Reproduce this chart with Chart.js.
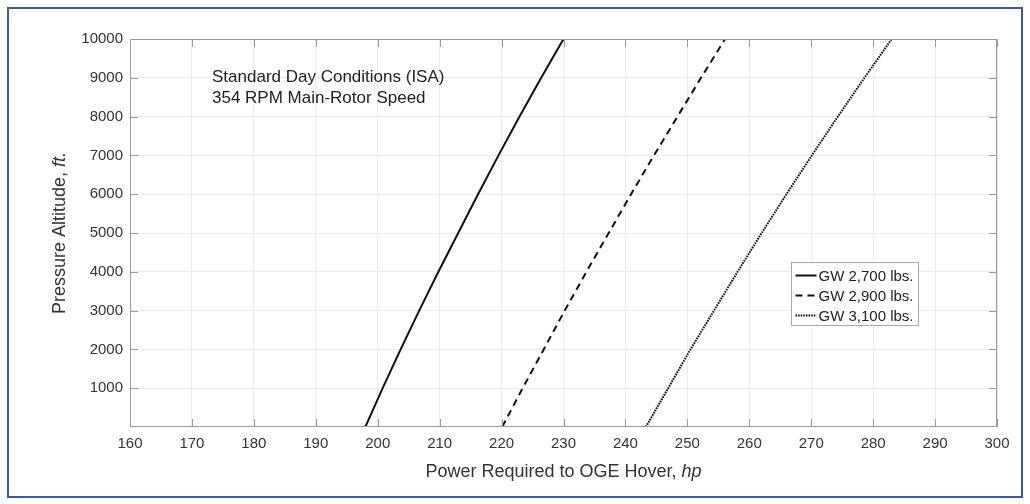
<!DOCTYPE html>
<html>
<head>
<meta charset="utf-8">
<script src="https://cdn.jsdelivr.net/npm/chart.js@4.4.1/dist/chart.umd.min.js"></script>
<style>
  html, body { margin: 0; padding: 0; background: #fff; }
</style>
</head>
<body>
<canvas id="hoverChart" width="1030" height="504"></canvas>
<script>
// Pressure altitude (ft) and power required (hp) for each gross weight
const altitudes = [0, 1000, 2000, 3000, 4000, 5000, 6000, 7000, 8000, 9000, 10000];
const gw2700 = [198.0, 200.8, 203.7, 206.7, 209.8, 213.0, 216.2, 219.5, 222.9, 226.4, 230.0];
const gw2900 = [220.1, 223.4, 226.8, 230.2, 233.7, 237.3, 240.9, 244.6, 248.4, 252.2, 256.1];
const gw3100 = [243.3, 246.9, 250.5, 254.3, 258.1, 262.0, 266.0, 270.1, 274.3, 278.6, 283.0];

const seriesLabels = ['GW 2,700 lbs.', 'GW 2,900 lbs.', 'GW 3,100 lbs.'];
const seriesDash = [[], [7, 5], [1.6, 1]];

const powerTicks = [160, 170, 180, 190, 200, 210, 220, 230, 240, 250, 260, 270, 280, 290, 300];
const altitudeTicks = [1000, 2000, 3000, 4000, 5000, 6000, 7000, 8000, 9000, 10000];

const noteLines = ['Standard Day Conditions (ISA)', '354 RPM Main-Rotor Speed'];

const FONT = '"Liberation Sans", Arial, Helvetica, sans-serif';
const AXIS_COLOR = '#9a9a9a';
const TEXT_COLOR = '#333333';

function toPoints(values) {
    return values.map((hp, i) => ({ x: hp, y: altitudes[i] }));
}

// Draw normal text followed by an italic part, as one centred string
function drawMixed(ctx, plain, italic, size) {
    ctx.font = size + 'px ' + FONT;
    const w1 = ctx.measureText(plain).width;
    ctx.font = 'italic ' + size + 'px ' + FONT;
    const w2 = ctx.measureText(italic).width;
    const start = -(w1 + w2) / 2;
    ctx.textAlign = 'left';
    ctx.textBaseline = 'middle';
    ctx.font = size + 'px ' + FONT;
    ctx.fillText(plain, start, 0);
    ctx.font = 'italic ' + size + 'px ' + FONT;
    ctx.fillText(italic, start + w1, 0);
}

const framePlugin = {
    id: 'frame',
    beforeDraw(chart) {
        const ctx = chart.ctx;
        ctx.save();
        ctx.fillStyle = '#ffffff';
        ctx.fillRect(0, 0, chart.width, chart.height);
        ctx.strokeStyle = '#3b5c9e';
        ctx.lineWidth = 2;
        ctx.strokeRect(8, 8, chart.width - 16, chart.height - 15);
        ctx.restore();
    },
    afterDraw(chart) {
        const ctx = chart.ctx;
        const area = chart.chartArea;
        const xs = chart.scales.x;
        const ys = chart.scales.y;
        const tick = 8;
        ctx.save();

        // axes box with inward ticks on every side
        ctx.strokeStyle = AXIS_COLOR;
        ctx.lineWidth = 1;
        ctx.strokeRect(area.left + 0.5, area.top + 0.5, area.right - area.left - 1, area.bottom - area.top - 1);
        ctx.beginPath();
        powerTicks.forEach(v => {
            const px = Math.round(xs.getPixelForValue(v)) + 0.5;
            ctx.moveTo(px, area.bottom);
            ctx.lineTo(px, area.bottom - tick);
            ctx.moveTo(px, area.top);
            ctx.lineTo(px, area.top + tick);
        });
        altitudeTicks.forEach(v => {
            const py = Math.round(ys.getPixelForValue(v)) + 0.5;
            ctx.moveTo(area.left, py);
            ctx.lineTo(area.left + tick, py);
            ctx.moveTo(area.right, py);
            ctx.lineTo(area.right - tick, py);
        });
        ctx.stroke();

        // axis titles
        ctx.fillStyle = TEXT_COLOR;
        ctx.save();
        ctx.translate((area.left + area.right) / 2, 472);
        drawMixed(ctx, 'Power Required to OGE Hover, ', 'hp', 18);
        ctx.restore();
        ctx.save();
        ctx.translate(60, (area.top + area.bottom) / 2);
        ctx.rotate(-Math.PI / 2);
        drawMixed(ctx, 'Pressure Altitude, ', 'ft.', 18);
        ctx.restore();

        // conditions note
        ctx.font = '17px ' + FONT;
        ctx.textAlign = 'left';
        ctx.textBaseline = 'alphabetic';
        ctx.fillStyle = '#222222';
        noteLines.forEach((line, i) => {
            ctx.fillText(line, area.left + 82, 82 + i * 21);
        });

        // legend
        ctx.font = '15px ' + FONT;
        const textW = Math.max(...seriesLabels.map(s => ctx.measureText(s).width));
        const sample = 21;
        const boxW = 4 + sample + 2 + textW + 5;
        const boxH = 3 + seriesLabels.length * 20;
        const bx = Math.round(area.right - 79 - boxW) + 0.5;
        const by = Math.round(area.bottom - 102 - boxH) + 0.5;
        ctx.fillStyle = '#ffffff';
        ctx.fillRect(bx, by, boxW, boxH);
        ctx.strokeStyle = '#a8a8a8';
        ctx.strokeRect(bx, by, boxW, boxH);
        chart.data.datasets.forEach((ds, i) => {
            const cy = by + 13 + i * 20;
            ctx.strokeStyle = '#111111';
            ctx.lineWidth = ds.borderWidth;
            ctx.setLineDash(ds.borderDash);
            ctx.beginPath();
            ctx.moveTo(bx + 4, cy);
            ctx.lineTo(bx + 4 + sample, cy);
            ctx.stroke();
            ctx.setLineDash([]);
            ctx.fillStyle = '#222222';
            ctx.textBaseline = 'middle';
            ctx.fillText(ds.label, bx + 4 + sample + 2, cy + 1);
        });
        ctx.restore();
    }
};

const ctxHover = document.getElementById('hoverChart').getContext('2d');
const hoverChart = new Chart(ctxHover, {
    type: 'scatter',
    data: {
        datasets: [gw2700, gw2900, gw3100].map((values, i) => ({
            label: seriesLabels[i],
            data: toPoints(values),
            showLine: true,
            borderColor: '#111111',
            backgroundColor: '#111111',
            borderWidth: 2,
            borderDash: seriesDash[i],
            pointRadius: 0,
            tension: 0
        }))
    },
    options: {
        responsive: false,
        animation: false,
        layout: { padding: { top: 39, right: 33, left: 0, bottom: 0 } },
        plugins: {
            legend: { display: false },
            tooltip: { enabled: false }
        },
        scales: {
            x: {
                type: 'linear',
                min: 160,
                max: 300,
                afterFit(scale) { scale.height = 77; },
                afterBuildTicks(scale) { scale.ticks = powerTicks.map(v => ({ value: v })); },
                grid: { color: '#ebebeb', drawTicks: false },
                border: { display: false },
                ticks: { padding: 8, color: TEXT_COLOR, font: { family: FONT, size: 15 }, maxRotation: 0, autoSkip: false, callback: v => String(v) }
            },
            y: {
                type: 'linear',
                min: 0,
                max: 10000,
                afterFit(scale) { scale.width = 130; },
                afterBuildTicks(scale) { scale.ticks = altitudeTicks.map(v => ({ value: v })); },
                grid: { color: '#ebebeb', drawTicks: false },
                border: { display: false },
                ticks: { padding: 7, color: TEXT_COLOR, font: { family: FONT, size: 15 }, autoSkip: false, callback: v => String(v) }
            }
        }
    },
    plugins: [framePlugin]
});
</script>
</body>
</html>
